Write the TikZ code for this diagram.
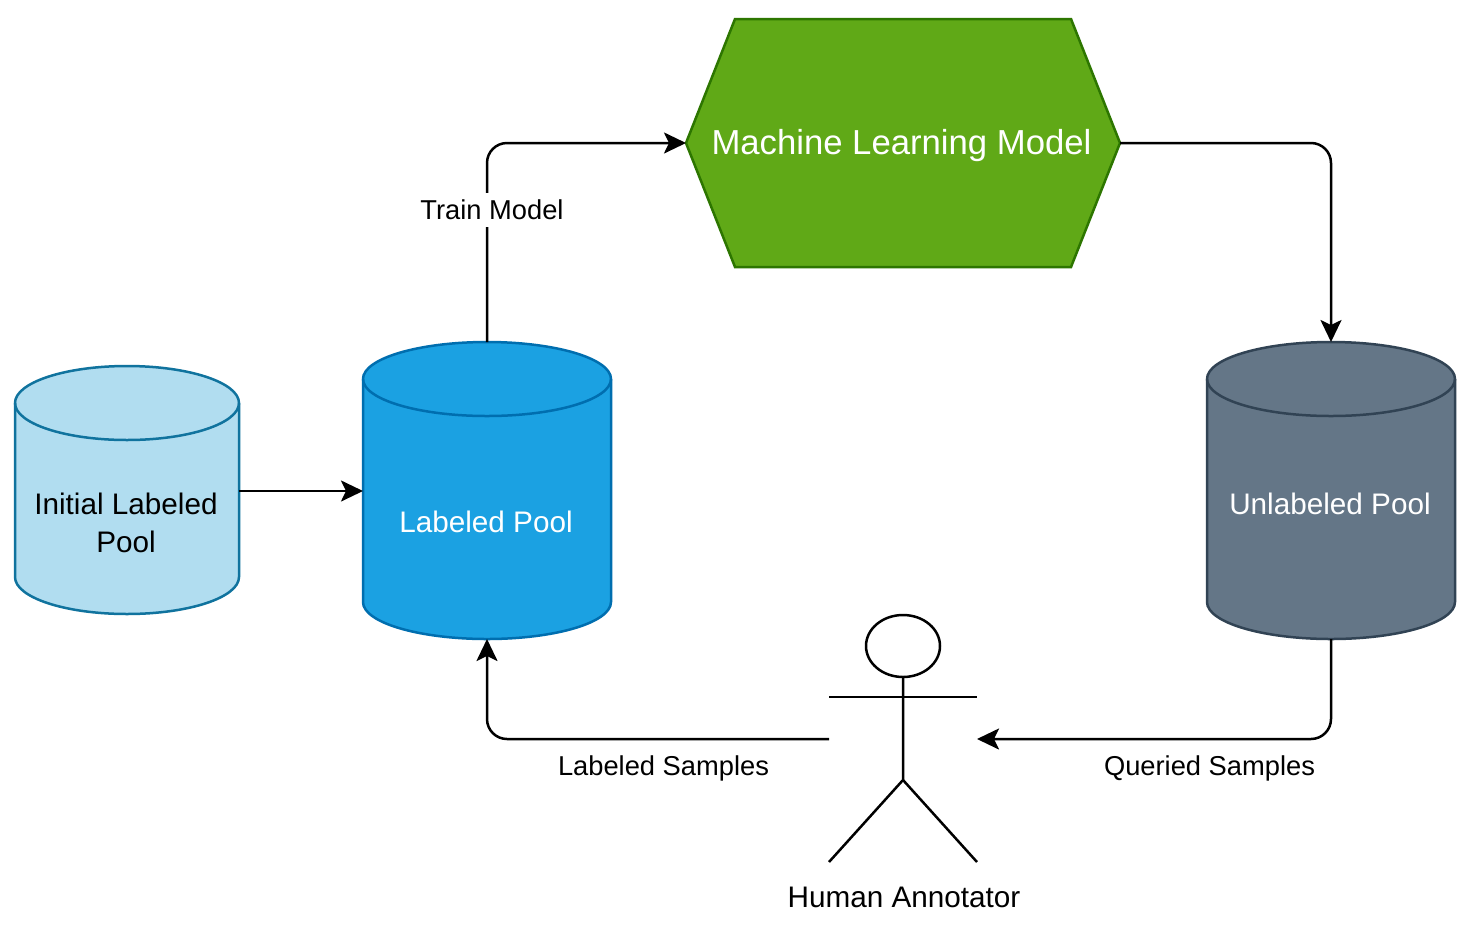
\documentclass[tikz,border=0pt]{standalone}
\usepackage{fontspec}
\setmainfont{Liberation Sans}
\usetikzlibrary{arrows.meta}
\definecolor{lightfill}{HTML}{B1DDF0}
\definecolor{lightline}{HTML}{10739E}
\definecolor{bluefill}{HTML}{1BA1E2}
\definecolor{blueline}{HTML}{006EAF}
\definecolor{grayfill}{HTML}{647687}
\definecolor{grayline}{HTML}{314354}
\definecolor{greenfill}{HTML}{60A917}
\definecolor{greenline}{HTML}{2D7600}
\tikzset{
  link/.style={draw=black,line width=2.5pt,rounded corners=20pt,-{Stealth[length=22pt,width=21pt,inset=5pt]}},
  plainline/.style={draw=black,line width=2.5pt},
  small/.style={font=\fontsize{27.3}{32}\selectfont,inner sep=0pt,anchor=base},
  mid/.style={font=\fontsize{29.7}{38}\selectfont,inner sep=0pt,align=center,anchor=base},
}
% name, left, top, width, height, fill, stroke
\newcommand{\drum}[7]{%
  \path[fill=#6,draw=#7,line width=2.5pt]
    (#2,#3+37) arc[start angle=180,end angle=0,x radius=#4/2,y radius=-37]
    -- (#2+#4,#3+#5-37) arc[start angle=0,end angle=-180,x radius=#4/2,y radius=-37]
    -- cycle;
  \path[draw=#7,line width=2.5pt]
    (#2,#3+37) arc[start angle=180,end angle=360,x radius=#4/2,y radius=-37];
  \node[inner sep=0pt,outer sep=0pt,minimum width=#4pt,minimum height=#5pt] (#1) at (#2+#4/2,#3+#5/2) {};
}
\begin{document}
\begin{tikzpicture}[x=1pt,y=-1pt]
\useasboundingbox (0,0) rectangle (1467,946);
\fill[white] (0,0) rectangle (1467,946);

\drum{initial}{15}{366}{224}{248}{lightfill}{lightline}
\drum{labeled}{363}{342}{248}{297}{bluefill}{blueline}
\drum{unlabeled}{1207}{342}{248}{297}{grayfill}{grayline}

\node[mid,text=black] at (126,514) {Initial Labeled};
\node[mid,text=black] at (126,552) {Pool};
\node[mid,text=white] at (486,532) {Labeled Pool};
\node[mid,text=white] at (1330,514) {Unlabeled Pool};

% model
\path[fill=greenfill,draw=greenline,line width=2.5pt]
  (686,143) -- (735,19) -- (1071,19) -- (1120,143) -- (1071,267) -- (735,267) -- cycle;
\node[inner sep=0pt,outer sep=0pt,minimum width=434pt,minimum height=248pt] (model) at (903,143) {};
\node[font=\fontsize{34.7}{40}\selectfont,text=white,inner sep=0pt,anchor=base] at (901.5,154) {Machine Learning Model};

% actor
\draw[plainline] (903,646) ellipse[x radius=37,y radius=31];
\draw[plainline] (903,677) -- (903,780) -- (829,862);
\draw[plainline] (903,780) -- (977,862);
\draw[plainline] (829,697) -- (977,697);
\node[inner sep=0pt,outer sep=0pt,minimum width=148pt,minimum height=248pt] (actor) at (903,739) {};
\node[mid,text=black] at (904,907) {Human Annotator};

% connectors
\draw[link] (initial.east |- 0,491) -- (labeled.west |- 0,491);
\draw[link] (labeled.north) |- (model.west);
\draw[link] (model.east) -| (unlabeled.north);
\draw[link] (unlabeled.south) |- (actor.east);
\draw[link] (actor.west) -| (labeled.south);

% labels
\node[small,fill=white,inner xsep=2pt,inner ysep=1pt,text height=25pt,text depth=7pt] at (492,219) {Train Model};
\node[small] at (663.5,775) {Labeled Samples};
\node[small] at (1209.5,775) {Queried Samples};
\end{tikzpicture}
\end{document}
